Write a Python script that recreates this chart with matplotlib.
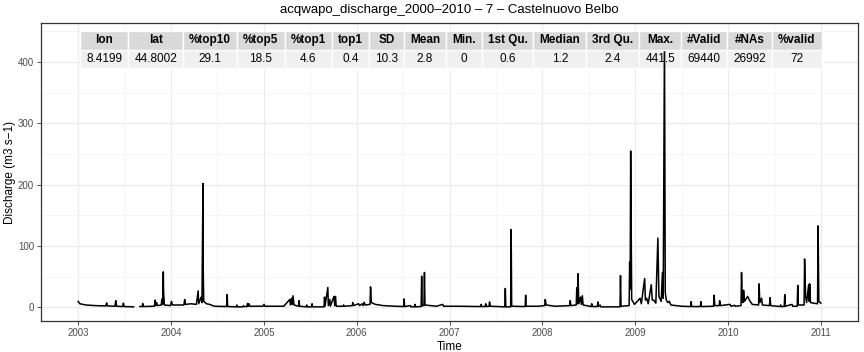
import numpy as np
import pandas as pd
import matplotlib
matplotlib.use("Agg")
import matplotlib.pyplot as plt
import matplotlib.dates as mdates
from matplotlib.patches import Rectangle

plt.rcParams['font.family'] = ['Liberation Sans', 'DejaVu Sans']

title = "acqwapo_discharge_2000\u20132010 \u2013 7 \u2013 Castelnuovo Belbo"

# discharge readings (m3 s-1); NaN = missing stretch
dates = [
    "2003-01-01", "2003-01-08", "2003-02-01", "2003-03-10", "2003-04-20", "2003-04-23", "2003-04-26",
    "2003-05-26", "2003-05-29", "2003-06-01", "2003-06-25", "2003-06-28", "2003-07-01", "2003-08-07",
    "2003-08-08", "2003-09-01", "2003-09-10", "2003-09-12", "2003-09-14", "2003-10-28", "2003-10-31",
    "2003-11-02", "2003-11-06", "2003-11-09", "2003-11-24", "2003-11-26", "2003-11-29", "2003-12-02",
    "2003-12-03", "2003-12-06", "2003-12-30", "2004-01-03", "2004-01-07", "2004-02-21", "2004-02-24",
    "2004-02-27", "2004-03-20", "2004-04-10", "2004-04-17", "2004-04-19", "2004-04-29", "2004-05-02",
    "2004-05-06", "2004-05-07", "2004-05-09", "2004-05-20", "2004-06-01", "2004-06-20", "2004-08-07",
    "2004-08-09", "2004-08-11", "2004-09-14", "2004-09-16", "2004-09-18", "2004-10-10", "2004-10-12",
    "2004-10-14", "2004-10-26", "2004-10-28", "2004-10-31", "2004-11-03", "2004-11-06", "2004-12-28",
    "2005-01-01", "2005-01-04", "2005-03-20", "2005-04-12", "2005-04-15", "2005-04-19", "2005-04-22",
    "2005-04-25", "2005-04-29", "2005-05-17", "2005-05-19", "2005-05-21", "2005-06-16", "2005-06-18",
    "2005-06-20", "2005-07-07", "2005-07-09", "2005-07-11", "2005-08-25", "2005-08-27", "2005-08-29",
    "2005-09-09", "2005-09-11", "2005-09-17", "2005-09-19", "2005-10-03", "2005-10-06", "2005-10-09",
    "2005-10-12", "2005-11-08", "2005-11-10", "2005-11-12", "2005-12-14", "2005-12-16", "2005-12-18",
    "2006-01-08", "2006-01-12", "2006-01-22", "2006-01-26", "2006-01-30", "2006-02-03", "2006-02-22",
    "2006-02-24", "2006-02-27", "2006-03-15", "2006-04-15", "2006-06-01", "2006-07-04", "2006-07-06",
    "2006-07-08", "2006-07-31", "2006-08-02", "2006-08-16", "2006-08-18", "2006-08-20", "2006-09-11",
    "2006-09-13", "2006-09-15", "2006-09-22", "2006-09-24", "2006-09-26", "2006-11-10", "2006-12-05",
    "2006-12-08", "2007-02-01", "2007-05-03", "2007-05-05", "2007-05-07", "2007-05-21", "2007-05-23",
    "2007-05-25", "2007-06-05", "2007-06-07", "2007-06-10", "2007-08-06", "2007-08-08", "2007-08-10",
    "2007-08-29", "2007-08-31", "2007-09-02", "2007-10-25", "2007-10-27", "2007-10-29", "2007-12-15",
    "2008-01-10", "2008-01-12", "2008-01-16", "2008-02-20", "2008-04-17", "2008-04-19", "2008-04-22",
    "2008-05-13", "2008-05-15", "2008-05-17", "2008-05-20", "2008-05-23", "2008-05-30", "2008-06-02",
    "2008-06-06", "2008-06-09", "2008-07-11", "2008-07-13", "2008-07-15", "2008-08-04", "2008-08-06",
    "2008-08-08", "2008-08-15", "2008-08-17", "2008-11-01", "2008-11-03", "2008-11-05", "2008-12-07",
    "2008-12-09", "2008-12-11", "2008-12-13", "2008-12-17", "2008-12-28", "2009-01-19", "2009-01-24",
    "2009-02-06", "2009-02-09", "2009-02-14", "2009-02-20", "2009-03-04", "2009-03-08", "2009-03-14",
    "2009-03-22", "2009-03-30", "2009-04-03", "2009-04-12", "2009-04-17", "2009-04-20", "2009-04-25",
    "2009-04-28", "2009-05-02", "2009-05-08", "2009-05-14", "2009-05-20", "2009-07-01", "2009-08-06",
    "2009-08-08", "2009-08-10", "2009-09-13", "2009-09-15", "2009-09-17", "2009-11-04", "2009-11-06",
    "2009-11-09", "2009-11-26", "2009-11-28", "2009-12-01", "2010-01-08", "2010-01-12", "2010-01-26",
    "2010-01-28", "2010-02-20", "2010-02-22", "2010-02-25", "2010-02-28", "2010-03-02", "2010-03-06",
    "2010-03-18", "2010-03-25", "2010-04-05", "2010-04-30", "2010-05-02", "2010-05-05", "2010-05-12",
    "2010-05-15", "2010-06-12", "2010-06-14", "2010-06-17", "2010-07-24", "2010-07-26", "2010-07-28",
    "2010-08-09", "2010-08-11", "2010-08-13", "2010-09-09", "2010-09-11", "2010-09-29", "2010-10-01",
    "2010-10-03", "2010-10-26", "2010-10-28", "2010-11-01", "2010-11-05", "2010-11-13", "2010-11-15",
    "2010-11-17", "2010-11-20", "2010-12-02", "2010-12-18", "2010-12-20", "2010-12-23", "2010-12-31",
]
flow = [
    10, 6, 4, 3, 2.5, 7.5, 2.5,
    2, 11, 2, 1.5, 7, 1.5, 1,
    np.nan, 1.5, 1.5, 6.5, 1.5, 2, 12,
    3, 8, 3, 4, 13, 5, 58,
    27, 4, 3, 10, 4, 4, 13,
    5, 6, 5, 27, 6, 17, 8,
    202, 60, 10, 6, 5, 2, 1.5,
    21, 1.5, 1, 4, 1, 1, 3,
    1.5, 1.5, 6.5, 2, 6, 2, 2,
    5, 2, 2, 13, 4, 15, 5,
    19, 4, 2, 11, 2, 1, 4,
    1, 1, 6, 1, 1, 17, 2,
    32.5, 3, 13, 2, 18, 3, 18,
    2, 2, 4, 2, 3, 8, 3,
    6, 3, 6, 3, 8.5, 4, 5,
    33.6, 8, 5, 3, 2, 1.5, 14,
    1.5, 3, 1, 1, 5, 1, 1.5,
    51, 3, 3, 57, 4, 2, 5,
    2, 2, 1.5, 5, 1.5, 1.5, 6,
    1.5, 2, 9, 2, 1, 31, 1,
    1, 127, 2, 1.5, 20, 2, 2,
    3, 13, 4, 2, 3, 11, 3,
    4, 32, 6, 55, 6, 17, 5,
    19, 4, 1.5, 6, 1.5, 1.5, 9,
    1.5, 4, 1, 1, 52, 2, 3,
    74, 30, 255, 13, 5, 15, 6,
    47, 12, 15, 6, 37, 12, 12,
    7, 113, 18, 10, 57, 15, 441.5,
    25, 12, 8, 10, 4, 2, 1.5,
    9.5, 1.5, 1.5, 9.5, 1.5, 2, 20,
    3, 3, 11, 3, 5, 2, 3.5,
    2, 3, 57, 10, 8, 28, 10,
    18, 12, 5, 4, 38.5, 8, 15,
    4, 3, 16, 3, 1.5, 4, 1.5,
    1.5, 21, 2, 5, 2, 2, 36,
    4, 4, 79, 18, 8, 37, 10,
    38.5, 8, 7, 6, 133, 10, 7,
]

# summary table
stat_names = ["lon", "lat", "%top10", "%top5", "%top1", "top1", "SD", "Mean", "Min.",
              "1st Qu.", "Median", "3rd Qu.", "Max.", "#Valid", "#NAs", "%valid"]
stat_values = ["8.4199", "44.8002", "29.1", "18.5", "4.6", "0.4", "10.3", "2.8", "0",
               "0.6", "1.2", "2.4", "441.5", "69440", "26992", "72"]

W, H = 864, 352
fig = plt.figure(figsize=(W / 100, H / 100), dpi=100)
L, R, T, B = 41, 858, 23, 321
ax = fig.add_axes([L / W, 1 - B / H, (R - L) / W, (B - T) / H])

t = pd.to_datetime(dates)
ax.plot(t, flow, color="black", lw=1.1, zorder=2)

span = t.max() - t.min()
ax.set_xlim(t.min() - span * 0.05, t.max() + span * 0.05)
vmax = np.nanmax(flow)
ax.set_ylim(-0.05 * vmax, 1.05 * vmax)

ax.xaxis.set_major_locator(mdates.YearLocator())
ax.xaxis.set_major_formatter(mdates.DateFormatter("%Y"))
ax.xaxis.set_minor_locator(mdates.MonthLocator(bymonth=7, bymonthday=2))
ax.set_yticks([0, 100, 200, 300, 400])
ax.set_yticks([50, 150, 250, 350, 450], minor=True)

ax.grid(which="major", color="#ebebeb", lw=0.9)
ax.grid(which="minor", color="#f4f4f4", lw=0.6)
ax.set_axisbelow(True)
ax.tick_params(which="major", length=3, width=0.6, color="#333333",
               labelsize=7, labelcolor="#4d4d4d", pad=2)
ax.tick_params(which="minor", length=0)
for s in ax.spines.values():
    s.set_color("#333333")
    s.set_linewidth(0.9)

ax.set_xlabel("Time", fontsize=8.5, labelpad=2)
fig.text(10 / W, 1 - (T + B) / 2 / H, "Discharge (m3 s\u22121)", rotation=90,
         ha="center", va="center", fontsize=8.5)
fig.text((L + R) / 2 / W, 1 - 10 / H, title, ha="center", va="center", fontsize=9.5)

# table drawn in pixel positions converted to axes fractions
def ax_x(px):
    return (px - L) / (R - L)

def ax_y(py):
    return (B - py) / (B - T)

fs = 8.5
renderer = fig.canvas.get_renderer()
widths = []
for name, val in zip(stat_names, stat_values):
    a = fig.text(0, 0, name, fontsize=fs, fontweight="bold")
    b = fig.text(0, 0, val, fontsize=fs)
    w = max(a.get_window_extent(renderer).width, b.get_window_extent(renderer).width)
    a.remove()
    b.remove()
    widths.append(w + 12)

total = sum(widths)
x = (L + R) / 2 - total / 2 + 1.5
rows = [(31, 49.5), (49.5, 68)]
for name, val, w in zip(stat_names, stat_values, widths):
    for (top, bot), txt, fc, bold, z in [(rows[0], name, "#d9d9d9", True, 4),
                                         (rows[1], val, "#f0f0f0", False, 1)]:
        ax.add_patch(Rectangle((ax_x(x), ax_y(bot)), w / (R - L), (bot - top) / (B - T),
                               transform=ax.transAxes, clip_on=False, fc=fc,
                               ec="white", lw=1.0, zorder=z))
        ax.text(ax_x(x + w / 2), ax_y((top + bot) / 2), txt, transform=ax.transAxes,
                ha="center", va="center", fontsize=fs,
                fontweight="bold" if bold else "normal", zorder=5, clip_on=False)
    x += w

fig.savefig("out.png", dpi=100)
